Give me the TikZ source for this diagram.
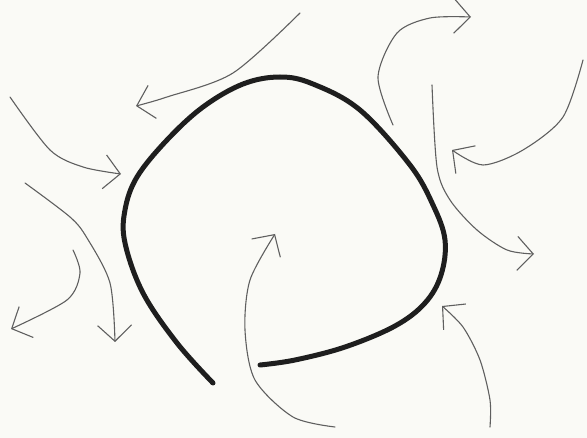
\documentclass[tikz,border=0pt]{standalone}
\usepackage{tikz}
\usetikzlibrary{arrows.meta}
\definecolor{paper}{RGB}{250,250,246}
\definecolor{pencil}{RGB}{95,95,95}
\definecolor{marker}{RGB}{30,30,30}

\begin{document}
\begin{tikzpicture}[
  x=1pt, y=-1pt,
  rim/.style={line width=5pt, marker, line cap=round, line join=round},
  flow/.style={line width=1.1pt, pencil, line cap=round, -{Straight Barb[length=16pt, width=34pt, line width=1.1pt]}}
]
\fill[paper] (0,0) rectangle (587,438);
\useasboundingbox (0,0) rectangle (587,438);

% the broken loop
\draw[rim] plot[smooth, tension=0.6] coordinates {(213,383) (177,343) (143,293) (125,243) (125,210) (137,177) (167,140) (203,107) (243,84) (280,77) (313,84) (360,110) (410,165) (433,205) (445,240) (441,275) (425,303) (395,326) (345,347) (295,360) (260,365)};

% arrows round the loop
\draw[flow] plot[smooth] coordinates {(300,13) (233,73) (167,97) (136,106)};
\draw[flow] plot[smooth] coordinates {(10,97) (50,150) (83,167) (121,174)};
\draw[flow] plot[smooth] coordinates {(25,183) (70,217) (87,238) (110,283) (115,342)};
\draw[flow] plot[smooth] coordinates {(73,250) (80,273) (67,300) (11,329)};
\draw[flow] plot[smooth] coordinates {(335,427) (293,417) (255,380) (245,330) (250,280) (275,234)};
\draw[flow] plot[smooth] coordinates {(490,427) (490,400) (480,360) (463,327) (442,306)};
\draw[flow] plot[smooth] coordinates {(432,85) (437,167) (450,200) (477,230) (507,250) (534,254)};
\draw[flow] plot[smooth] coordinates {(583,60) (563,117) (523,150) (483,165) (452,150)};
\draw[flow] plot[smooth] coordinates {(393,125) (378,77) (397,33) (430,18) (471,17)};
\end{tikzpicture}
\end{document}
